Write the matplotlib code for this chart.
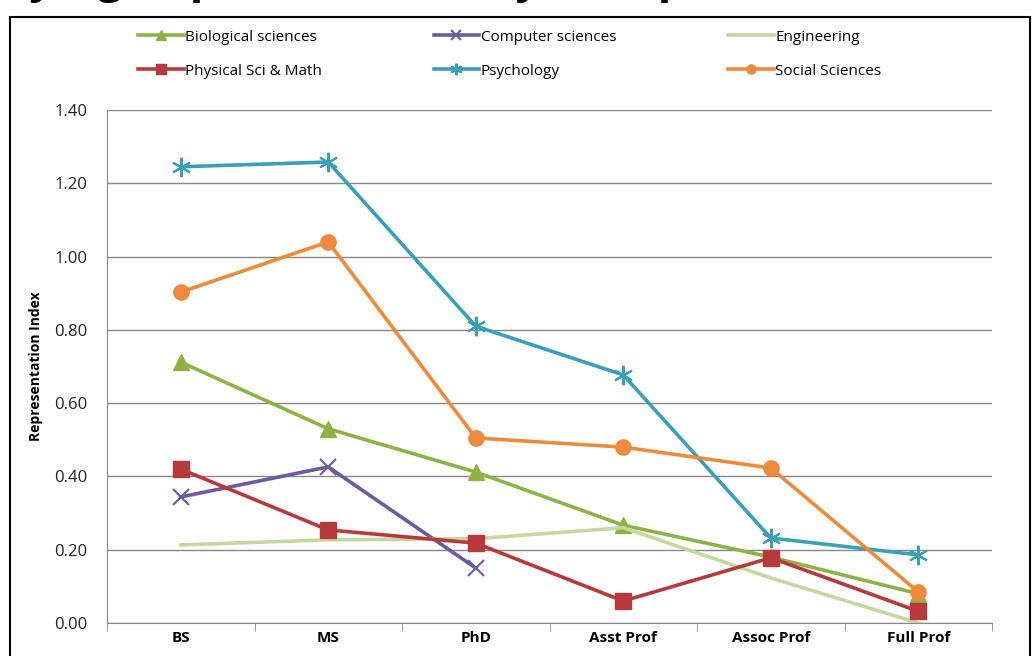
"""Representation index by discipline and career stage (line chart)."""

import matplotlib

matplotlib.use("Agg")
import matplotlib.pyplot as plt
from matplotlib.patches import Rectangle
from matplotlib.ticker import FormatStrFormatter

plt.rcParams["font.family"] = ["Open Sans", "DejaVu Sans"]

stages = ["BS", "MS", "PhD", "Asst Prof", "Assoc Prof", "Full Prof"]

biological = [0.712, 0.530, 0.412, 0.267, 0.180, 0.080]
computer = [0.344, 0.426, 0.150]
engineering = [0.213, 0.227, 0.230, 0.260, 0.123, 0.000]
physical = [0.420, 0.254, 0.218, 0.060, 0.178, 0.032]
psychology = [1.245, 1.258, 0.810, 0.677, 0.232, 0.186]
social = [0.903, 1.040, 0.505, 0.480, 0.423, 0.085]

series = [
    ("Biological sciences", biological, "#8FB247", "^", 11),
    ("Computer sciences", computer, "#6E5A9E", "x", 11),
    ("Engineering", engineering, "#C5D89E", None, 0),
    ("Physical Sci & Math", physical, "#B8393B", "s", 11),
    ("Psychology", psychology, "#3A9FB8", "*", 12),
    ("Social Sciences", social, "#EE8A3C", "o", 11),
]

fig = plt.figure(figsize=(10.35, 6.56), dpi=100)
ax = fig.add_axes([107 / 1035, 1 - 623 / 656, 885 / 1035, 513 / 656])

x = list(range(len(stages)))
for label, vals, color, marker, ms in series:
    kw = {}
    if marker == "*":
        # asterisk-like marker: thin 6-armed
        kw = dict(marker=(6, 2, 0), markersize=ms + 2, markeredgewidth=1.5,
                  markeredgecolor=color)
    elif marker == "x":
        kw = dict(marker="x", markersize=ms, markeredgewidth=1.5)
    elif marker is not None:
        kw = dict(marker=marker, markersize=ms, markeredgecolor=color)
    ax.plot(x[: len(vals)], vals, color=color, lw=2.6, label=label, **kw)

ax.set_xlim(-0.5, len(stages) - 0.5)
ax.set_ylim(0, 1.40)
ax.set_yticks([0, 0.2, 0.4, 0.6, 0.8, 1.0, 1.2, 1.4])
ax.yaxis.set_major_formatter(FormatStrFormatter("%.2f"))
ax.set_xticks(x)
ax.set_xticklabels(stages, fontweight="bold", fontsize=11)
ax.set_xticks([i - 0.5 for i in range(len(stages) + 1)], minor=True)
ax.tick_params(axis="x", which="major", length=0, pad=6)
ax.tick_params(axis="x", which="minor", length=6, color="#888888")
ax.tick_params(axis="y", length=0, labelsize=12, pad=14, colors="#222222")
ax.grid(axis="y", color="#888888", lw=1)
ax.set_axisbelow(True)
for side in ("top", "right"):
    ax.spines[side].set_visible(False)
ax.spines["left"].set_color("#888888")
ax.spines["bottom"].set_color("#888888")
ax.set_ylabel("Representation Index", fontweight="bold", fontsize=10, labelpad=8)

# legend reads row by row in the original: reorder for column-major filling
handles, labels = ax.get_legend_handles_labels()
order = [0, 3, 1, 4, 2, 5]
fig.legend([handles[i] for i in order], [labels[i] for i in order],
           loc="upper left", bbox_to_anchor=(124 / 1035, 1 - 16 / 656),
           ncol=3, frameon=False, fontsize=11, columnspacing=7.3, handlelength=3,
           handletextpad=0.1, labelspacing=1.25, markerscale=0.6)

# outer frame of the original slide
fig.patches.append(Rectangle((10 / 1035, -0.05), 1020 / 1035, 1.05 - 17 / 656,
                             transform=fig.transFigure, fill=False, ec="black", lw=1.5))

# clipped slide title above the frame
fig.text(0.5, 1 + 8 / 656, "Underlying Representation by Discipline and Career Stage",
         ha="center", va="baseline", fontsize=32, fontweight="bold", color="black")

fig.savefig("out.png", dpi=100)
